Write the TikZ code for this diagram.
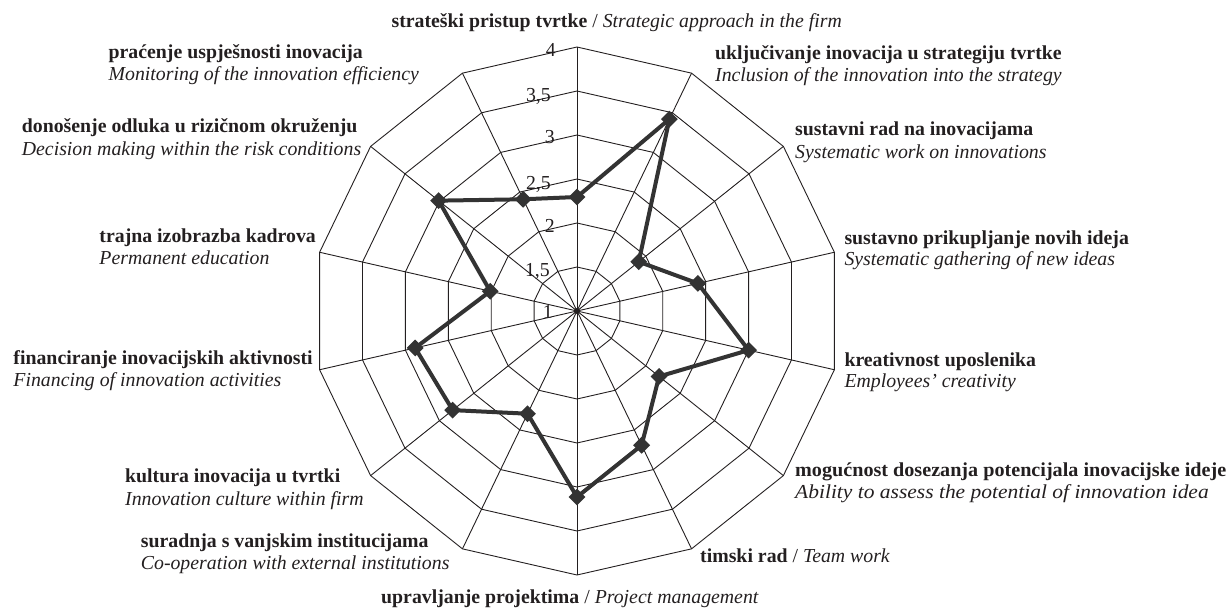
\documentclass[tikz,border=0pt]{standalone}
\usepackage{graphicx}
\usepackage{fontspec}
\setmainfont{Liberation Serif}
\usetikzlibrary{shapes.geometric}
\definecolor{ink}{HTML}{231F20}
\definecolor{seriescol}{HTML}{333333}
\begin{document}
\begin{tikzpicture}[x=1pt,y=1pt,
  font=\fontsize{19.8}{22}\selectfont, text=ink,
  gridline/.style={draw=ink, line width=0.9pt},
  seriesline/.style={draw=seriescol, line width=4pt, line join=round},
  marker/.style={diamond, fill=seriescol, inner sep=0pt, minimum size=17pt},
  lab/.style={inner sep=0pt, anchor=base west},
  labr/.style={inner sep=0pt, anchor=base east},
  tick/.style={inner sep=0pt, anchor=base east}]
\useasboundingbox (-577,-297) rectangle (651,311);
\coordinate (o) at (0,0);
% axis ends
\foreach \i in {0,...,13}{
  \coordinate (a\i) at ({90-\i*360/14}:264);
}
% rings
\foreach \r in {44,88,132,176,220,264}{
  \draw[gridline] (90:\r) \foreach \i in {1,...,13}{ -- ({90-\i*360/14}:\r) } -- cycle;
}
% spokes
\foreach \i in {0,...,13}{
  \draw[gridline] (o) -- (a\i);
}
\fill[ink] (o) circle (3);
% tick labels
\node[tick] (k4)  at (-21,254.5) {4};
\node[tick] (k35) at (-26,209.5) {3,5};
\node[tick] (k3)  at (-22,167.8) {3};
\node[tick] (k25) at (-26,121.8) {2,5};
\node[tick] (k2)  at (-22,78.8) {2};
\node[tick] (k15) at (-27,34.5) {1,5};
\node[tick] (k1)  at (-24,-7) {1};
% data
\foreach \r [count=\i from 0] in {114,213,79,124,176,105,149,186,114,159,166,89,177,124}{
  \coordinate (p\i) at ({90-\i*360/14}:\r);
}
\draw[seriesline] (p0) -- (p1) -- (p2) -- (p3) -- (p4) -- (p5) -- (p6) -- (p7)
  -- (p8) -- (p9) -- (p10) -- (p11) -- (p12) -- (p13) -- cycle;
\foreach \i in {0,...,13}{
  \node[marker] (m\i) at (p\i) {};
}
% labels
\node[labr] (t0) at (265,283) {\textbf{strateški pristup tvrtke} / \textit{Strategic approach in the firm}};
\node[lab] (t1a) at (138,251) {\textbf{uključivanje inovacija u strategiju tvrtke}};
\node[lab] (t1b) at (138,229) {\textit{Inclusion of the innovation into the strategy}};
\node[lab] (t2a) at (218,175) {\textbf{sustavni rad na inovacijama}};
\node[lab] (t2b) at (218,152) {\textit{Systematic work on innovations}};
\node[lab] (t3a) at (267.3,66.7) {\textbf{sustavno prikupljanje novih ideja}};
\node[lab] (t3b) at (267.3,45.7) {\textit{Systematic gathering of new ideas}};
\node[lab] (t4a) at (267.3,-55) {\textbf{kreativnost uposlenika}};
\node[lab] (t4b) at (267.3,-76.7) {\textit{Employees' creativity}};
\node[lab] (t5a) at (218,-165) {\scalebox{1.018}[1]{\textbf{mogućnost dosezanja potencijala inovacijske ideje}}};
\node[lab] (t5b) at (218,-187.7) {\scalebox{1.085}[1]{\textit{Ability to assess the potential of innovation idea}}};
\node[lab] (t6) at (123,-251) {\textbf{timski rad} / \textit{Team work}};
\node[lab] (t7) at (-196,-292) {\textbf{upravljanje projektima} / \textit{Project management}};
\node[lab] (t8a) at (-436.3,-236.7) {\textbf{suradnja s vanjskim institucijama}};
\node[lab] (t8b) at (-436.3,-258.3) {\textit{Co-operation with external institutions}};
\node[lab] (t9a) at (-452,-171.7) {\textbf{kultura inovacija u tvrtki}};
\node[lab] (t9b) at (-452,-194) {\textit{Innovation culture within firm}};
\node[lab] (t10a) at (-563.7,-53.3) {\textbf{financiranje inovacijskih aktivnosti}};
\node[lab] (t10b) at (-563.7,-75) {\textit{Financing of innovation activities}};
\node[lab] (t11a) at (-477.7,69) {\textbf{trajna izobrazba kadrova}};
\node[lab] (t11b) at (-477.7,46.7) {\textit{Permanent education}};
\node[lab] (t12a) at (-555.3,178.3) {\textbf{donošenje odluka u rizičnom okruženju}};
\node[lab] (t12b) at (-555.3,155.7) {\textit{Decision making within the risk conditions}};
\node[lab] (t13a) at (-468.5,252) {\textbf{praćenje uspješnosti inovacija}};
\node[lab] (t13b) at (-468.5,230) {\textit{Monitoring of the innovation efficiency}};
\end{tikzpicture}
\end{document}
